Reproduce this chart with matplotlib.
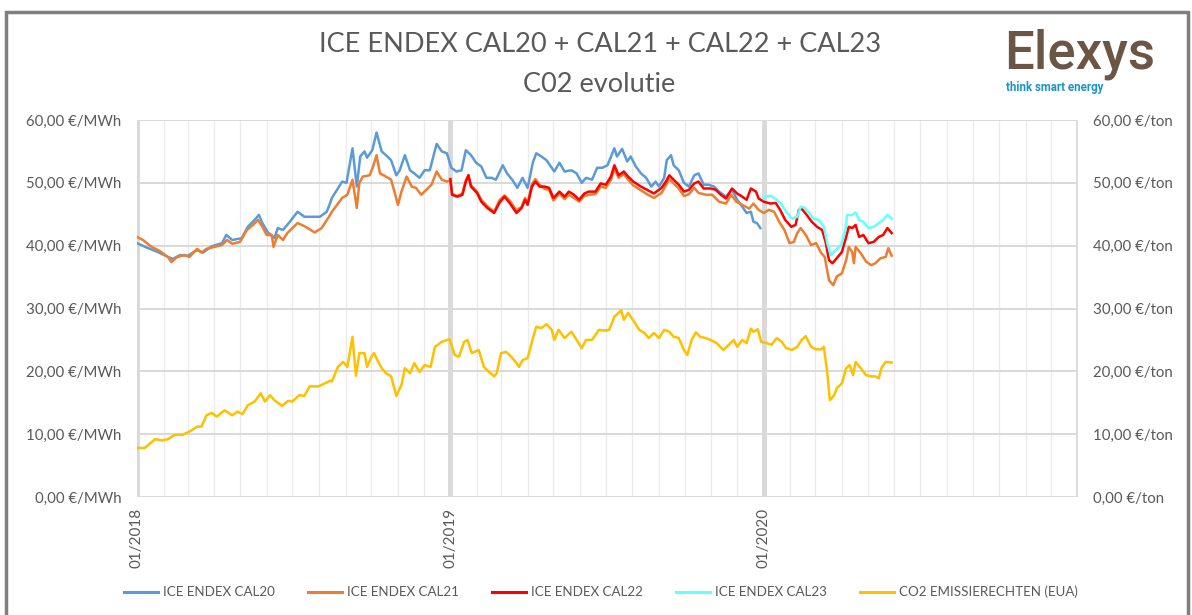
import matplotlib
matplotlib.use("Agg")
import matplotlib.pyplot as plt
import matplotlib.dates as mdates
from matplotlib.lines import Line2D
from matplotlib.patches import Rectangle
from matplotlib.ticker import FuncFormatter
import pandas as pd

# ---- data ----
cal20_dates = ["2018-01-01", "2018-01-14", "2018-01-25", "2018-02-06", "2018-02-12", "2018-02-20",
               "2018-03-01", "2018-03-12", "2018-03-19", "2018-03-29", "2018-04-10", "2018-04-15",
               "2018-04-22", "2018-05-03", "2018-05-10", "2018-05-18", "2018-05-23", "2018-05-27",
               "2018-06-02", "2018-06-10", "2018-06-14", "2018-06-20", "2018-06-28", "2018-07-07",
               "2018-07-15", "2018-07-23", "2018-08-02", "2018-08-10", "2018-08-14", "2018-08-16",
               "2018-08-28", "2018-09-02", "2018-09-09", "2018-09-14", "2018-09-18", "2018-09-23",
               "2018-09-26", "2018-10-02", "2018-10-07", "2018-10-13", "2018-10-18", "2018-10-24",
               "2018-10-30", "2018-11-03", "2018-11-09", "2018-11-15", "2018-11-20", "2018-11-26",
               "2018-12-02", "2018-12-08", "2018-12-16", "2018-12-22", "2018-12-28", "2019-01-02",
               "2019-01-08", "2019-01-14", "2019-01-19", "2019-01-25", "2019-01-31", "2019-02-06",
               "2019-02-12", "2019-02-18", "2019-02-23", "2019-03-03", "2019-03-08", "2019-03-14",
               "2019-03-20", "2019-03-26", "2019-04-01", "2019-04-07", "2019-04-11", "2019-04-17",
               "2019-04-23", "2019-05-02", "2019-05-08", "2019-05-14", "2019-05-22", "2019-05-28",
               "2019-06-03", "2019-06-08", "2019-06-15", "2019-06-21", "2019-06-27", "2019-07-03",
               "2019-07-11", "2019-07-14", "2019-07-20", "2019-07-26", "2019-07-30", "2019-08-05",
               "2019-08-11", "2019-08-17", "2019-08-23", "2019-08-28", "2019-09-01", "2019-09-07",
               "2019-09-10", "2019-09-15", "2019-09-18", "2019-09-24", "2019-09-30", "2019-10-06",
               "2019-10-12", "2019-10-17", "2019-10-23", "2019-10-29", "2019-11-04", "2019-11-10",
               "2019-11-18", "2019-11-25", "2019-12-01", "2019-12-07", "2019-12-12", "2019-12-17",
               "2019-12-20", "2019-12-24", "2019-12-28"]
cal20_values = [40.4, 39.6, 39.0, 38.2, 37.9, 38.5, 38.4, 39.3, 38.9, 39.9, 40.4, 41.7,
                40.9, 41.2, 43.0, 44.1, 44.9, 43.6, 42.2, 41.2, 42.8, 42.5, 43.8, 45.4,
                44.6, 44.6, 44.6, 45.4, 46.8, 47.6, 50.2, 50.0, 55.5, 49.4, 54.2, 55.0,
                54.0, 55.2, 58.0, 55.0, 54.4, 53.6, 51.2, 52.0, 54.4, 52.0, 51.5, 50.8,
                52.0, 52.0, 56.2, 55.0, 54.7, 52.4, 51.8, 52.0, 55.2, 54.4, 53.2, 52.6,
                50.8, 50.8, 50.5, 52.8, 51.5, 50.5, 49.2, 50.8, 49.2, 53.2, 54.7, 54.2,
                53.6, 51.8, 53.2, 51.8, 52.0, 51.5, 50.0, 50.8, 50.5, 52.4, 52.4, 52.8,
                55.5, 54.2, 55.4, 53.4, 54.2, 52.6, 51.5, 50.8, 49.4, 50.2, 49.4, 50.8,
                53.6, 54.4, 52.8, 52.0, 50.0, 49.4, 51.2, 51.5, 49.7, 49.7, 49.4, 48.6,
                47.8, 48.9, 47.3, 46.2, 45.2, 45.4, 43.8, 43.6, 42.8]

cal21_dates = ["2018-01-01", "2018-01-08", "2018-01-18", "2018-01-27", "2018-02-06", "2018-02-10",
               "2018-02-17", "2018-02-25", "2018-03-03", "2018-03-12", "2018-03-17", "2018-03-23",
               "2018-04-01", "2018-04-10", "2018-04-16", "2018-04-22", "2018-05-01", "2018-05-09",
               "2018-05-16", "2018-05-22", "2018-05-27", "2018-06-01", "2018-06-07", "2018-06-09",
               "2018-06-14", "2018-06-20", "2018-06-25", "2018-07-07", "2018-07-15", "2018-07-27",
               "2018-08-04", "2018-08-14", "2018-08-16", "2018-08-28", "2018-09-03", "2018-09-09",
               "2018-09-14", "2018-09-17", "2018-09-21", "2018-09-29", "2018-10-03", "2018-10-07",
               "2018-10-11", "2018-10-18", "2018-10-24", "2018-11-01", "2018-11-05", "2018-11-11",
               "2018-11-17", "2018-11-22", "2018-11-28", "2018-12-04", "2018-12-10", "2018-12-16",
               "2018-12-22", "2018-12-28", "2019-01-01", "2019-01-03", "2019-01-09", "2019-01-15",
               "2019-01-19", "2019-01-22", "2019-01-25", "2019-02-01", "2019-02-06", "2019-02-13",
               "2019-02-21", "2019-02-27", "2019-03-05", "2019-03-11", "2019-03-19", "2019-03-25",
               "2019-03-29", "2019-04-01", "2019-04-06", "2019-04-10", "2019-04-15", "2019-04-21",
               "2019-04-26", "2019-05-01", "2019-05-08", "2019-05-14", "2019-05-19", "2019-05-25",
               "2019-05-31", "2019-06-06", "2019-06-11", "2019-06-19", "2019-06-25", "2019-07-01",
               "2019-07-07", "2019-07-11", "2019-07-16", "2019-07-22", "2019-07-27", "2019-08-02",
               "2019-08-11", "2019-08-18", "2019-08-26", "2019-09-04", "2019-09-09", "2019-09-13",
               "2019-09-18", "2019-09-24", "2019-09-30", "2019-10-06", "2019-10-12", "2019-10-17",
               "2019-10-26", "2019-11-02", "2019-11-10", "2019-11-18", "2019-11-24", "2019-11-30",
               "2019-12-07", "2019-12-15", "2019-12-20", "2019-12-26", "2020-01-01", "2020-01-07",
               "2020-01-13", "2020-01-19", "2020-01-25", "2020-01-31", "2020-02-05", "2020-02-09",
               "2020-02-13", "2020-02-19", "2020-02-25", "2020-03-02", "2020-03-08", "2020-03-12",
               "2020-03-17", "2020-03-22", "2020-03-26", "2020-04-01", "2020-04-06", "2020-04-09",
               "2020-04-13", "2020-04-15", "2020-04-17", "2020-04-23", "2020-04-29", "2020-05-05",
               "2020-05-10", "2020-05-16", "2020-05-22", "2020-05-25", "2020-05-29"]
cal21_values = [41.4, 40.9, 39.8, 39.2, 38.2, 37.4, 38.2, 38.5, 38.2, 39.5, 38.9, 39.5,
                39.8, 40.1, 40.9, 40.3, 40.6, 42.5, 43.3, 44.1, 43.0, 41.7, 41.7, 39.8,
                41.7, 40.9, 42.0, 43.6, 43.1, 42.1, 42.8, 44.9, 45.4, 47.6, 48.1, 50.5,
                46.0, 50.0, 51.0, 51.2, 52.6, 54.4, 51.5, 51.0, 50.5, 46.5, 48.6, 51.0,
                49.4, 49.2, 48.1, 48.9, 49.7, 51.8, 50.5, 50.2, 50.4, 48.2, 47.9, 48.3,
                50.4, 51.2, 49.6, 48.6, 47.3, 46.3, 45.4, 47.2, 48.0, 47.2, 45.6, 46.2,
                47.6, 46.8, 49.8, 50.6, 49.7, 49.0, 48.9, 47.2, 48.3, 47.4, 48.1, 47.6,
                47.0, 47.9, 48.1, 48.2, 49.4, 49.2, 50.5, 52.2, 50.8, 51.4, 50.5, 49.6,
                48.8, 48.2, 47.6, 48.4, 49.6, 50.6, 49.9, 49.1, 47.9, 48.2, 49.2, 48.4,
                48.1, 48.1, 47.0, 46.7, 48.1, 47.0, 46.5, 45.9, 46.7, 45.7, 45.2, 45.7,
                45.4, 43.8, 42.5, 40.4, 40.6, 42.0, 42.8, 41.7, 40.1, 40.4, 38.8, 38.2,
                34.5, 33.7, 35.1, 35.6, 37.7, 39.8, 39.0, 37.2, 39.8, 38.8, 37.5, 36.9,
                37.2, 38.0, 38.2, 39.6, 38.4]

cal22_dates = ["2019-01-01", "2019-01-03", "2019-01-09", "2019-01-15", "2019-01-19", "2019-01-22",
               "2019-01-25", "2019-02-01", "2019-02-06", "2019-02-13", "2019-02-21", "2019-02-27",
               "2019-03-05", "2019-03-11", "2019-03-19", "2019-03-25", "2019-03-29", "2019-04-01",
               "2019-04-06", "2019-04-10", "2019-04-15", "2019-04-21", "2019-04-26", "2019-05-01",
               "2019-05-08", "2019-05-14", "2019-05-19", "2019-05-25", "2019-05-31", "2019-06-06",
               "2019-06-11", "2019-06-19", "2019-06-25", "2019-07-01", "2019-07-07", "2019-07-11",
               "2019-07-16", "2019-07-22", "2019-07-27", "2019-08-02", "2019-08-11", "2019-08-18",
               "2019-08-26", "2019-09-04", "2019-09-09", "2019-09-13", "2019-09-18", "2019-09-24",
               "2019-09-30", "2019-10-06", "2019-10-12", "2019-10-17", "2019-10-23", "2019-10-31",
               "2019-11-06", "2019-11-12", "2019-11-18", "2019-11-25", "2019-12-01", "2019-12-07",
               "2019-12-12", "2019-12-17", "2019-12-23", "2019-12-26", "2020-01-01", "2020-01-09",
               "2020-01-15", "2020-01-20", "2020-01-26", "2020-02-02", "2020-02-07", "2020-02-11",
               "2020-02-14", "2020-02-20", "2020-02-26", "2020-03-03", "2020-03-09", "2020-03-13",
               "2020-03-17", "2020-03-21", "2020-03-26", "2020-04-01", "2020-04-06", "2020-04-09",
               "2020-04-13", "2020-04-17", "2020-04-21", "2020-04-26", "2020-05-02", "2020-05-08",
               "2020-05-14", "2020-05-19", "2020-05-24", "2020-05-29"]
cal22_values = [50.6, 48.1, 47.8, 48.1, 50.2, 51.2, 49.4, 48.4, 47.0, 46.0, 45.2, 46.8,
                47.8, 46.8, 45.2, 46.0, 47.3, 46.5, 49.4, 50.2, 49.4, 49.4, 49.2, 47.6,
                48.6, 47.8, 48.6, 48.1, 47.3, 48.3, 48.6, 48.6, 49.9, 49.7, 51.0, 52.8,
                51.2, 51.8, 51.0, 50.2, 49.4, 48.9, 48.3, 49.2, 50.2, 51.2, 50.5, 49.7,
                48.6, 48.9, 49.9, 50.2, 49.1, 49.1, 48.9, 48.1, 47.5, 49.1, 48.3, 47.8,
                47.3, 49.1, 48.6, 47.5, 47.0, 46.7, 46.8, 45.7, 44.1, 43.0, 43.3, 45.7,
                45.9, 44.9, 43.8, 43.0, 42.5, 40.6, 37.7, 37.2, 38.0, 39.0, 41.4, 43.0,
                42.8, 43.3, 41.4, 41.7, 40.4, 40.6, 41.4, 41.7, 42.8, 42.0]

cal23_dates = ["2020-01-01", "2020-01-04", "2020-01-10", "2020-01-16", "2020-01-22", "2020-01-27",
               "2020-02-03", "2020-02-09", "2020-02-13", "2020-02-17", "2020-02-23", "2020-02-28",
               "2020-03-05", "2020-03-11", "2020-03-15", "2020-03-19", "2020-03-25", "2020-03-31",
               "2020-04-05", "2020-04-07", "2020-04-13", "2020-04-17", "2020-04-21", "2020-04-26",
               "2020-05-02", "2020-05-08", "2020-05-14", "2020-05-19", "2020-05-24", "2020-05-29"]
cal23_values = [47.5, 47.9, 47.9, 47.3, 46.5, 45.4, 44.3, 44.6, 46.2, 46.1, 45.2, 44.3,
                44.1, 43.0, 40.4, 38.5, 39.3, 40.1, 42.5, 44.9, 44.9, 45.3, 44.1, 43.8,
                42.8, 43.0, 43.6, 44.1, 44.9, 44.3]

co2_dates = ["2018-01-01", "2018-01-10", "2018-01-22", "2018-01-30", "2018-02-06", "2018-02-14",
             "2018-02-23", "2018-03-03", "2018-03-12", "2018-03-17", "2018-03-23", "2018-03-29",
             "2018-04-04", "2018-04-13", "2018-04-22", "2018-04-28", "2018-05-04", "2018-05-10",
             "2018-05-18", "2018-05-25", "2018-05-30", "2018-06-05", "2018-06-10", "2018-06-19",
             "2018-06-26", "2018-07-01", "2018-07-09", "2018-07-15", "2018-07-21", "2018-07-31",
             "2018-08-05", "2018-08-14", "2018-08-16", "2018-08-23", "2018-08-29", "2018-09-03",
             "2018-09-09", "2018-09-13", "2018-09-17", "2018-09-23", "2018-09-26", "2018-10-01",
             "2018-10-04", "2018-10-08", "2018-10-13", "2018-10-18", "2018-10-24", "2018-10-30",
             "2018-11-05", "2018-11-09", "2018-11-15", "2018-11-20", "2018-11-26", "2018-12-02",
             "2018-12-09", "2018-12-14", "2018-12-22", "2018-12-31", "2019-01-06", "2019-01-11",
             "2019-01-17", "2019-01-21", "2019-01-26", "2019-02-03", "2019-02-09", "2019-02-15",
             "2019-02-21", "2019-02-24", "2019-03-01", "2019-03-07", "2019-03-13", "2019-03-19",
             "2019-03-22", "2019-03-26", "2019-04-01", "2019-04-06", "2019-04-11", "2019-04-17",
             "2019-04-23", "2019-04-29", "2019-05-02", "2019-05-07", "2019-05-14", "2019-05-22",
             "2019-05-28", "2019-06-03", "2019-06-08", "2019-06-15", "2019-06-23", "2019-06-29",
             "2019-07-05", "2019-07-11", "2019-07-19", "2019-07-22", "2019-07-27", "2019-08-03",
             "2019-08-09", "2019-08-15", "2019-08-20", "2019-08-26", "2019-09-01", "2019-09-07",
             "2019-09-13", "2019-09-18", "2019-09-24", "2019-09-30", "2019-10-04", "2019-10-09",
             "2019-10-14", "2019-10-19", "2019-10-25", "2019-10-31", "2019-11-07", "2019-11-15",
             "2019-11-21", "2019-11-27", "2019-12-01", "2019-12-07", "2019-12-12", "2019-12-17",
             "2019-12-20", "2019-12-25", "2019-12-29", "2020-01-04", "2020-01-10", "2020-01-16",
             "2020-01-22", "2020-01-27", "2020-02-03", "2020-02-09", "2020-02-14", "2020-02-19",
             "2020-02-25", "2020-03-02", "2020-03-08", "2020-03-11", "2020-03-15", "2020-03-18",
             "2020-03-23", "2020-03-26", "2020-04-01", "2020-04-06", "2020-04-10", "2020-04-14",
             "2020-04-17", "2020-04-23", "2020-04-29", "2020-05-05", "2020-05-10", "2020-05-14",
             "2020-05-17", "2020-05-22", "2020-05-29"]
co2_values = [7.8, 7.8, 9.2, 9.0, 9.2, 9.9, 9.9, 10.4, 11.2, 11.2, 13.0, 13.4,
              12.8, 13.8, 13.0, 13.6, 13.2, 14.6, 15.2, 16.5, 15.2, 16.2, 15.4, 14.5,
              15.3, 15.2, 16.2, 16.1, 17.6, 17.6, 17.9, 18.5, 18.4, 20.7, 21.5, 20.7,
              25.5, 19.3, 22.9, 22.9, 20.7, 22.3, 22.9, 21.8, 20.5, 19.7, 19.2, 16.1,
              17.8, 20.5, 19.7, 21.3, 19.9, 21.0, 20.7, 23.9, 24.7, 25.1, 22.6, 22.3,
              24.7, 25.0, 22.9, 23.4, 20.7, 19.9, 19.2, 19.7, 22.9, 23.1, 22.3, 21.3,
              20.7, 21.8, 22.1, 24.7, 27.1, 26.9, 27.5, 26.6, 25.0, 26.6, 25.3, 26.3,
              25.0, 23.7, 25.0, 25.0, 26.6, 26.5, 26.6, 28.7, 29.7, 28.2, 29.3, 27.9,
              26.6, 26.1, 25.3, 26.1, 25.3, 26.6, 26.3, 25.5, 25.3, 23.4, 22.6, 25.0,
              26.2, 25.5, 25.3, 25.0, 24.5, 23.4, 24.2, 25.0, 23.9, 25.0, 24.5, 26.8,
              26.3, 26.7, 24.7, 24.5, 24.2, 25.3, 24.7, 23.7, 23.4, 23.9, 25.0, 25.6,
              23.9, 23.5, 23.5, 23.9, 19.7, 15.4, 16.2, 17.3, 18.1, 20.5, 21.0, 19.4,
              21.5, 20.5, 19.4, 19.2, 19.2, 18.9, 20.5, 21.5, 21.4]

series_names = ["ICE ENDEX CAL20", "ICE ENDEX CAL21", "ICE ENDEX CAL22",
                "ICE ENDEX CAL23", "CO2 EMISSIERECHTEN (EUA)"]
series_colors = ["#5B9BD5", "#ED7D31", "#FF0000", "#66FFFF", "#FFC000"]
year_ticks = ["2018-01-01", "2019-01-01", "2020-01-01"]

plt.rcParams["font.family"] = ["Lato", "DejaVu Sans"]
txt_color = "#595959"

fig = plt.figure(figsize=(11.92, 6.15), dpi=100)
ax = fig.add_axes([137 / 1192, 1 - 497 / 615, (1078 - 137) / 1192, (497 - 120) / 615])
ax2 = ax.twinx()

power = [(cal20_dates, cal20_values), (cal21_dates, cal21_values),
         (cal22_dates, cal22_values), (cal23_dates, cal23_values)]
for (d, v), col in zip(power, series_colors[:4]):
    ax.plot(pd.to_datetime(d), v, color=col, lw=1.8, solid_joinstyle="round")
ax2.plot(pd.to_datetime(co2_dates), co2_values, color=series_colors[4], lw=1.8,
         solid_joinstyle="round")

for a in (ax, ax2):
    a.set_ylim(0, 60)
    a.set_yticks(range(0, 61, 10))
    a.set_xlim(pd.Timestamp("2018-01-01"), pd.Timestamp("2021-01-01"))
    for s in a.spines.values():
        s.set_visible(False)
    a.tick_params(length=0, colors=txt_color, labelsize=10.8)

ax.yaxis.set_major_formatter(FuncFormatter(lambda v, p: f"{v:.2f}".replace(".", ",") + " €/MWh"))
ax2.yaxis.set_major_formatter(FuncFormatter(lambda v, p: f"{v:.2f}".replace(".", ",") + " €/ton"))
ax.tick_params(axis="y", pad=11)
ax2.tick_params(axis="y", pad=11)

# x axis: yearly labels, monthly gridlines
ax.set_xticks(pd.to_datetime(year_ticks))
ax.xaxis.set_minor_locator(mdates.MonthLocator())
ax.xaxis.set_major_formatter(mdates.DateFormatter("%m/%Y"))
ax.tick_params(axis="x", which="major", labelrotation=90, pad=8, labelsize=11)
ax.tick_params(axis="x", which="minor", length=0)
ax.set_axisbelow(True)
ax.grid(axis="x", which="minor", color="#EBEBEB", lw=1.0)
ax.grid(axis="x", which="major", color="#D9D9D9", lw=3.5)
ax.grid(axis="y", which="major", color="#D9D9D9", lw=1.4)
for lab in ax.get_xticklabels():
    lab.set_verticalalignment("top")
ax.axvline(pd.Timestamp("2021-01-01"), color="#D9D9D9", lw=3.5, zorder=0)

# title
fig.text(0.503, 1 - 45 / 615, "ICE ENDEX CAL20 + CAL21 + CAL22 + CAL23", ha="center", va="center",
         fontsize=19.5, color=txt_color)
fig.text(0.503, 1 - 84 / 615, "C02 evolutie", ha="center", va="center", fontsize=19.5, color=txt_color)

# logo
fig.text(1080 / 1192, 1 - 68 / 615, "Elexys", ha="center", va="baseline", fontsize=38,
         color="#6B5645", family="Roboto", fontweight="medium")
fig.text(1006 / 1192, 1 - 87 / 615, "think smart energy", ha="left", va="center", fontsize=8.3,
         color="#1B95C9", family="Roboto", fontweight="bold")

# legend
for i, (name, col) in enumerate(zip(series_names, series_colors)):
    x0 = (124 + 184 * i) / 1192
    y0 = 1 - 592 / 615
    fig.add_artist(Line2D([x0, x0 + 34 / 1192], [y0, y0], color=col, lw=2.2,
                          transform=fig.transFigure))
    fig.text(x0 + 39 / 1192, y0, name, ha="left", va="center", fontsize=9.6, color=txt_color)

# outer frame
fig.add_artist(Rectangle((6 / 1192, -0.05), 1182 / 1192, 1.05 - 12 / 615, fill=False,
                         ec="#7F7F7F", lw=2.5, transform=fig.transFigure))

fig.savefig("out.png", dpi=100, facecolor="white")
